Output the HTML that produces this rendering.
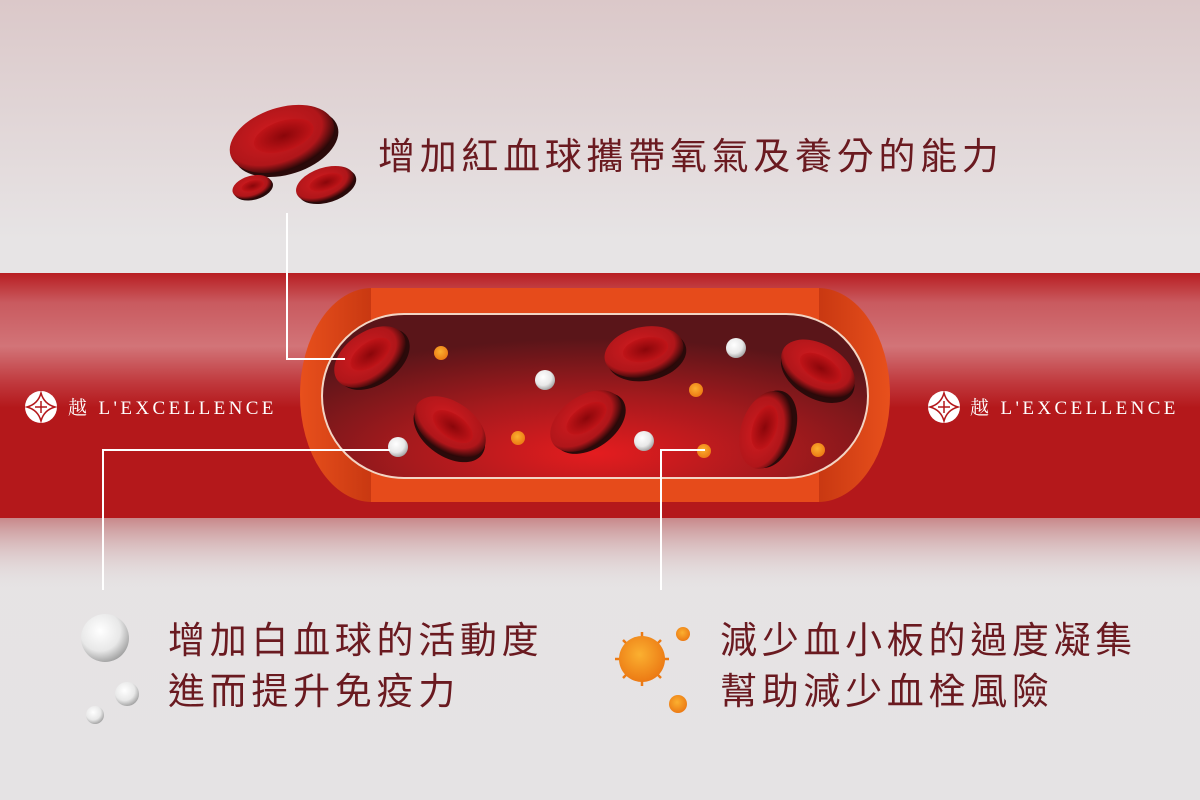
<!DOCTYPE html>
<html><head><meta charset="utf-8"><style>
body{margin:0;width:1200px;height:800px;overflow:hidden;font-family:"Liberation Sans","Noto Sans CJK TC",sans-serif;}
.t{position:absolute;color:#6a1a20;font-size:37px;letter-spacing:4.7px;white-space:nowrap;line-height:1;font-weight:normal}
</style></head><body>
<svg width="1200" height="800" style="position:absolute;left:0;top:0">
<defs>
<linearGradient id="bg" x1="0" y1="0" x2="0" y2="1">
<stop offset="0" stop-color="#dbc8c9"/><stop offset="0.3" stop-color="#e7e4e5"/><stop offset="1" stop-color="#e5e3e4"/></linearGradient>
<linearGradient id="band" x1="0" y1="0" x2="0" y2="1">
<stop offset="0" stop-color="#b81e22"/><stop offset="0.12" stop-color="#c95a5f"/><stop offset="0.3" stop-color="#d27478"/><stop offset="0.45" stop-color="#c0383c"/><stop offset="0.55" stop-color="#b4181b"/><stop offset="1" stop-color="#b4181b"/></linearGradient>
<linearGradient id="fade" x1="0" y1="0" x2="0" y2="1">
<stop offset="0" stop-color="#c8888a"/><stop offset="1" stop-color="#e5e3e4" stop-opacity="0"/></linearGradient>
<radialGradient id="inner" cx="0.5" cy="0.85" r="0.7">
<stop offset="0" stop-color="#e41c1f"/><stop offset="0.5" stop-color="#a51a1d"/><stop offset="1" stop-color="#5a1519"/></radialGradient>
<linearGradient id="capL" x1="0" y1="0" x2="1" y2="0"><stop offset="0" stop-color="#e8501c"/><stop offset="0.6" stop-color="#c2330f"/><stop offset="1" stop-color="#6b1a0f"/></linearGradient>
<linearGradient id="capR" x1="1" y1="0" x2="0" y2="0"><stop offset="0" stop-color="#e8501c"/><stop offset="0.6" stop-color="#c2330f"/><stop offset="1" stop-color="#6b1a0f"/></linearGradient>
<radialGradient id="rbc" cx="0.45" cy="0.4" r="0.6"><stop offset="0" stop-color="#d41c20"/><stop offset="0.75" stop-color="#b0161a"/><stop offset="1" stop-color="#2a0808"/></radialGradient>
<radialGradient id="rbcIn" cx="0.5" cy="0.5" r="0.5"><stop offset="0" stop-color="#8a060a"/><stop offset="1" stop-color="#c01418"/></radialGradient>
<radialGradient id="wbc" cx="0.4" cy="0.35" r="0.7"><stop offset="0" stop-color="#ffffff"/><stop offset="0.6" stop-color="#e8e8e8"/><stop offset="1" stop-color="#9a9a9a"/></radialGradient>
<radialGradient id="plt" cx="0.45" cy="0.4" r="0.6"><stop offset="0" stop-color="#fbb030"/><stop offset="1" stop-color="#ec7a14"/></radialGradient>
<g id="cell"><ellipse cx="2" cy="4" rx="40" ry="25" fill="#2a0a0a"/><ellipse rx="40" ry="25" fill="url(#rbc)"/><ellipse cx="2" cy="-2" rx="23" ry="12" fill="url(#rbcIn)"/></g>
</defs>
<rect width="1200" height="800" fill="url(#bg)"/>
<rect y="273" width="1200" height="245" fill="url(#band)"/>
<rect y="518" width="1200" height="75" fill="url(#fade)"/>
<ellipse cx="372" cy="395" rx="72" ry="107" fill="url(#capL)"/>
<ellipse cx="818" cy="395" rx="72" ry="107" fill="url(#capR)"/>
<rect x="371" y="288" width="448" height="214" fill="#e64b1b"/>
<rect x="322" y="314" width="546" height="164" rx="82" ry="82" fill="url(#inner)" stroke="#f3d5c4" stroke-width="2"/>
<use href="#cell" transform="translate(370,357) rotate(-35)"/>
<use href="#cell" transform="translate(450,427) rotate(35)"/>
<use href="#cell" transform="translate(586,421) rotate(-35)"/>
<use href="#cell" transform="translate(644,352) rotate(-12)"/>
<use href="#cell" transform="translate(818,369) rotate(30)"/>
<use href="#cell" transform="translate(766,430) rotate(-72)"/>
<use href="#cell" transform="translate(282,139) rotate(-18) scale(1.35,1.25)"/>
<use href="#cell" transform="translate(252,187) rotate(-15) scale(0.5,0.45)"/>
<use href="#cell" transform="translate(325,184) rotate(-18) scale(0.75,0.65)"/>
<g fill="url(#wbc)">
<circle cx="545" cy="380" r="10"/><circle cx="736" cy="348" r="10"/><circle cx="398" cy="447" r="10"/><circle cx="644" cy="441" r="10"/>
<circle cx="105" cy="638" r="24"/><circle cx="127" cy="694" r="12"/><circle cx="95" cy="715" r="9"/>
</g>
<g fill="url(#plt)">
<circle cx="441" cy="353" r="7"/><circle cx="696" cy="390" r="7"/><circle cx="518" cy="438" r="7"/><circle cx="704" cy="451" r="7"/><circle cx="818" cy="450" r="7"/>
<circle cx="683" cy="634" r="7"/><circle cx="678" cy="704" r="9"/>
</g>
<g stroke="#ec7a14" stroke-width="2.5">
<line x1="642" y1="632" x2="642" y2="686"/><line x1="615" y1="659" x2="669" y2="659"/>
<line x1="623" y1="640" x2="661" y2="678"/><line x1="661" y1="640" x2="623" y2="678"/>
</g>
<circle cx="642" cy="659" r="23" fill="url(#plt)"/>
<g fill="none" stroke="#fff" stroke-width="2">
<polyline points="287,213 287,359 345,359"/>
<polyline points="103,590 103,450 390,450"/>
<polyline points="661,590 661,450 705,450"/>
</g>
<g fill="#fff"><circle cx="41" cy="407" r="16"/><circle cx="944" cy="407" r="16"/></g>
<g stroke="#b4181b" stroke-width="1.5" fill="none">
<path d="M41 393 Q44 404 55 407 Q44 410 41 421 Q38 410 27 407 Q38 404 41 393Z M35 407h12M41 401v12"/>
<path d="M944 393 Q947 404 958 407 Q947 410 944 421 Q941 410 930 407 Q941 404 944 393Z M938 407h12M944 401v12"/>
</g>
<g fill="#fff" font-family="Liberation Serif,'Noto Serif CJK SC',serif" font-size="19" letter-spacing="3.4">
<text x="68" y="414">越 L'EXCELLENCE</text>
<text x="970" y="414">越 L'EXCELLENCE</text>
</g>
</svg>
<div class="t" style="left:378px;top:138px">增加紅血球攜帶氧氣及養分的能力</div>
<div class="t" style="left:168px;top:622px">增加白血球的活動度</div>
<div class="t" style="left:168px;top:673px">進而提升免疫力</div>
<div class="t" style="left:720px;top:622px">減少血小板的過度凝集</div>
<div class="t" style="left:720px;top:673px">幫助減少血栓風險</div>
</body></html>
